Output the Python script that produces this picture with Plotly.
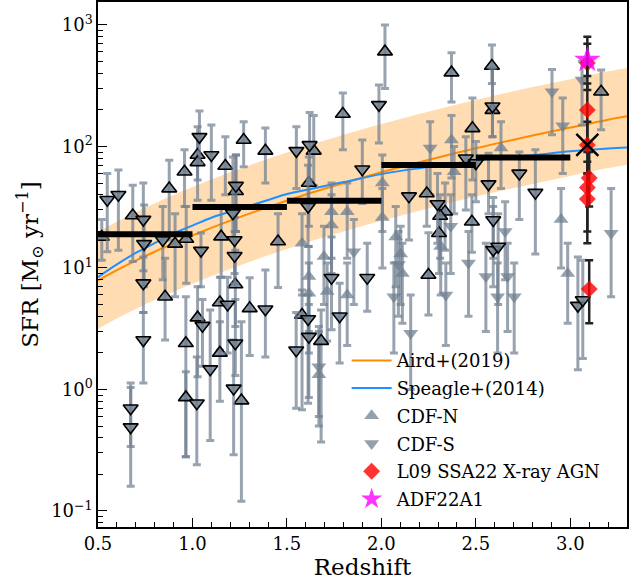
import plotly.graph_objects as go

# ---------------- data ----------------
# Model curves
aird_z = [0.5, 0.6, 0.7, 0.8, 0.9, 1.0, 1.2, 1.4, 1.6, 1.8, 2.0, 2.2, 2.4, 2.6, 2.8, 3.0, 3.2, 3.3]
aird_sfr = [7.9, 9.6, 11.5, 13.6, 15.9, 18.5, 24.5, 31.7, 40.2, 50, 61.3, 74.1, 88.7, 105, 123, 143, 166, 177]
band_hi = [19.8, 24, 28.8, 34, 39.8, 46.3, 61.3, 79.3, 100.5, 125, 153, 185, 222, 263, 308, 358, 415, 443]
band_lo = [3.16, 3.84, 4.6, 5.44, 6.36, 7.4, 9.8, 12.7, 16.1, 20, 24.5, 29.6, 35.5, 42, 49.2, 57.2, 66.4, 70.8]

speagle_z = [0.5, 0.6, 0.7, 0.8, 0.9, 1.0, 1.1, 1.2, 1.3, 1.4, 1.5, 1.6, 1.8, 2.0, 2.2, 2.4, 2.6, 2.8, 3.0, 3.2, 3.3]
speagle_sfr = [8.4, 10.7, 13.3, 16.0, 19.2, 22.3, 25.9, 29, 32.4, 36.3, 40.6, 43.9, 50.9, 59.2, 66.2, 72.8, 79.9, 84.5, 91.2, 96.4, 98.2]

# CDF-N, outlined markers
cdfn_e_z = [0.52, 0.684, 0.877, 0.908, 0.855, 0.958, 0.967, 0.965, 0.965, 1.027, 1.027, 1.174, 1.027, 1.152,
            1.23, 1.227, 1.145, 1.145, 1.259, 1.271, 1.386, 1.303, 1.453, 2.019, 1.796, 1.642, 1.616, 1.58,
            1.681, 2.24, 2.337, 2.311, 2.305, 2.249, 2.371, 2.482, 2.479, 2.585, 2.588, 3.163]
cdfn_e_sfr = [18, 27, 45, 15.8, 5.8, 62, 17.3, 2.4, 0.86, 85, 74, 69, 3.9, 18.1,
              42.8, 7.3, 5.2, 2.0, 0.81, 113, 92, 4.65, 16.5, 603, 185, 92, 50, 4.1,
              2.5, 41, 29, 26.8, 19.3, 8.75, 405, 141, 24, 460, 199, 282]
cdfn_e_hi = [25, 48, 77, 28, 12, 94, 32, 5.8, 1.4, 145, 120, 120, 7, 32,
             85, 14, 8.4, 3.6, 3.6, 160, 142, 8.3, 28, 1000, 275, 180, 82, 6.6,
             4.5, 73, 50, 40, 32, 19.5, 590, 250, 40, 685, 440, 425]
cdfn_e_lo = [11.6, 11.3, 17, 5.8, 2.55, 32, 7.5, 0.28, 0.28, 53, 36, 40, 1.27, 8.4,
             20, 3.3, 2.1, 0.8, 0.12, 68, 50, 1.9, 6.9, 300, 94, 48, 22, 0.68,
             0.37, 22, 14, 12, 9, 4.1, 232, 53, 13.5, 330, 120, 137]

# CDF-S, outlined markers
cdfs_e_z = [0.549, 0.608, 0.74, 0.744, 0.74, 0.74, 0.843, 0.673, 0.673, 1.037, 1.10, 1.045, 1.053, 1.023,
            1.094, 1.214, 1.23, 1.223, 1.223, 1.186, 1.227, 1.218, 1.386, 1.549, 1.55, 1.987, 1.62, 1.612,
            1.899, 1.736, 1.925, 1.779, 1.612, 1.616, 2.146, 2.297, 2.447, 2.50, 2.588, 2.567, 2.73, 2.815,
            2.592, 2.592, 2.618, 3.04, 3.066]
cdfs_e_sfr = [36.4, 40, 25, 15.8, 7.5, 2.55, 17, 0.70, 0.49, 120, 85, 13.9, 3.35, 0.77,
              1.47, 28.2, 47.6, 17, 12.6, 5.0, 2.4, 1.02, 4.57, 2.1, 92, 220, 103, 32,
              65, 8.3, 8.3, 4.0, 3.8, 2.72, 39, 33.6, 80, 73, 214, 49, 60, 41.7,
              24.8, 14.1, 15, 4.9, 5.45]
cdfs_e_hi = [60, 64, 50, 33, 12.3, 4.3, 32, 1.13, 1.04, 196, 150, 19.4, 5.5, 1.85,
             4.5, 82, 85, 26, 20, 8.4, 5.5, 2.55, 9.6, 4.3, 145, 320, 190, 70,
             113, 18, 16, 7.5, 6, 5, 68, 60, 120, 110, 440, 88, 90, 94,
             38, 32, 28, 12.3, 11.6]
cdfs_e_lo = [13.6, 14, 9.5, 7, 4.3, 1.13, 8, 0.34, 0.16, 73, 36, 7, 1.55, 0.24,
             0.38, 17, 20, 9, 7.5, 2.0, 1.3, 0.29, 1.85, 0.7, 45, 107, 53, 15,
             34, 3.1, 4.4, 1.65, 0.77, 0.86, 17, 16, 30, 35, 120, 28, 25, 13,
             12, 7, 5, 1.45, 1.8]

# CDF-N, plain markers
cdfn_p_z = [1.58, 1.616, 1.616, 1.696, 1.713, 1.736, 1.736, 1.819, 1.819, 2.005, 2.005, 1.669, 2.076,
            2.102, 2.111, 2.371, 2.385, 2.314, 2.633, 2.951, 2.986]
cdfn_p_sfr = [16, 8.5, 6.2, 12.4, 6.4, 29, 22.6, 29, 6.0, 50, 26, 1.32, 18,
              13, 9.0, 113, 62, 15, 97, 25, 9]
cdfn_p_hi = [28, 15, 11, 22, 11, 50, 40, 50, 11, 85, 45, 3, 32,
             22, 16, 180, 100, 26, 160, 45, 16]
cdfn_p_lo = [6, 3, 2, 5, 2.5, 12, 9, 12, 2.3, 20, 10, 0.5, 7,
             5, 3.5, 55, 28, 6, 45, 10, 3.5]

# CDF-S, plain markers
cdfs_p_z = [1.854, 1.669, 2.066, 2.155, 2.258, 2.341, 2.461, 2.903, 2.96, 3.062, 3.216, 2.655, 2.668,
            2.703, 2.553, 2.615, 2.367, 2.09]
cdfs_p_sfr = [13.6, 1.54, 5.8, 2.9, 97, 6.0, 11, 282, 148, 352, 19.3, 20, 8.5,
              5.8, 8.5, 5.8, 22, 10.7]
cdfs_p_hi = [25, 3.3, 11, 6, 160, 11, 20, 430, 250, 500, 45, 35, 16,
             11, 16, 11, 40, 20]
cdfs_p_lo = [5, 0.6, 2, 1, 40, 2.3, 4, 125, 60, 150, 5.8, 8, 3,
             2, 3, 2, 9, 4]

# Binned medians
med_z_lo = [0.5, 1.0, 1.5, 2.0, 2.5]
med_z_hi = [1.0, 1.5, 2.0, 2.5, 3.0]
med_sfr = [18.9, 31.7, 35.8, 70.5, 81]

# L09 SSA22 X-ray AGN
l09_z = [3.09, 3.09, 3.09, 3.10, 3.09, 3.09, 3.10]
l09_sfr = [487, 200, 103, 55, 46, 37, 6.7]
l09_hi = [800, 330, 160, 90, 75, 60, 11.6]
l09_lo = [292, 90, 60, 32, 16, 20, 3.5]

# ADF22A1
adf_z = [3.09]
adf_sfr = [515]
adf_hi = [700]
adf_lo = [380]

# Stacked value (cross)
stack_z = [3.09]
stack_sfr = [103]

# ---------------- figure ----------------
FONT = "DejaVu Serif"
GRAY_ERR = "rgba(112,128,144,0.72)"
GRAY_FILL = "rgba(112,128,144,0.85)"
GRAY_PLAIN = "rgba(112,128,144,0.75)"


def err(v, hi, lo):
    return [h - x for h, x in zip(hi, v)], [x - l for x, l in zip(v, lo)]


fig = go.Figure()

# shaded band
fig.add_trace(go.Scatter(x=aird_z, y=band_hi, mode="lines", line=dict(width=0, shape="spline"),
                         showlegend=False, hoverinfo="skip"))
fig.add_trace(go.Scatter(x=aird_z, y=band_lo, mode="lines", line=dict(width=0, shape="spline"),
                         fill="tonexty", fillcolor="rgba(255,140,0,0.3)", showlegend=False, hoverinfo="skip"))

fig.add_trace(go.Scatter(x=aird_z, y=aird_sfr, mode="lines", name="Aird+(2019)",
                         line=dict(color="#ff8c00", width=2, shape="spline"),
                         legendrank=1, legendgroup="g1"))
fig.add_trace(go.Scatter(x=speagle_z, y=speagle_sfr, mode="lines", name="Speagle+(2014)",
                         line=dict(color="#1e90ff", width=2, shape="spline"),
                         legendrank=2, legendgroup="g2"))


def pts(x, y, hi, lo, symbol, fill, edge, name, show, rank, group):
    up, dn = err(y, hi, lo)
    return go.Scatter(
        x=x, y=y, mode="markers", name=name, showlegend=show, legendrank=rank, legendgroup=group,
        marker=dict(symbol=symbol, size=13, color=fill,
                    line=dict(color="black" if edge else fill, width=1.6 if edge else 0)),
        error_y=dict(type="data", symmetric=False, array=up, arrayminus=dn,
                     color=GRAY_ERR, thickness=3, width=4),
    )


fig.add_trace(pts(cdfn_p_z, cdfn_p_sfr, cdfn_p_hi, cdfn_p_lo, "triangle-up", GRAY_PLAIN, False,
                  "CDF-N", True, 3, "g3"))
fig.add_trace(pts(cdfs_p_z, cdfs_p_sfr, cdfs_p_hi, cdfs_p_lo, "triangle-down", GRAY_PLAIN, False,
                  "CDF-S", True, 4, "g4"))
fig.add_trace(pts(cdfn_e_z, cdfn_e_sfr, cdfn_e_hi, cdfn_e_lo, "triangle-up", GRAY_FILL, True,
                  "CDF-N", False, 3, "g3"))
fig.add_trace(pts(cdfs_e_z, cdfs_e_sfr, cdfs_e_hi, cdfs_e_lo, "triangle-down", GRAY_FILL, True,
                  "CDF-S", False, 4, "g4"))

# binned medians
mx, my = [], []
for a, b, v in zip(med_z_lo, med_z_hi, med_sfr):
    mx += [a, b, None]
    my += [v, v, None]
fig.add_trace(go.Scatter(x=mx, y=my, mode="lines", line=dict(color="black", width=6),
                         showlegend=False, hoverinfo="skip"))

# L09
up, dn = err(l09_sfr, l09_hi, l09_lo)
fig.add_trace(go.Scatter(x=l09_z, y=l09_sfr, mode="markers", name="L09 SSA22 X-ray AGN",
                         legendrank=5, legendgroup="g5",
                         marker=dict(symbol="diamond", size=13, color="rgba(255,0,0,0.8)", line=dict(width=0)),
                         error_y=dict(type="data", symmetric=False, array=up, arrayminus=dn,
                                      color="#222222", thickness=2.5, width=4)))

# stacked cross
fig.add_trace(go.Scatter(x=stack_z, y=stack_sfr, mode="markers", showlegend=False,
                         marker=dict(symbol="x-thin", size=22, color="black",
                                     line=dict(color="black", width=2.5))))

# ADF22A1
up, dn = err(adf_sfr, adf_hi, adf_lo)
fig.add_trace(go.Scatter(x=adf_z, y=adf_sfr, mode="markers", name="ADF22A1",
                         legendrank=6, legendgroup="g6",
                         marker=dict(symbol="star", size=20, color="rgba(255,0,255,0.8)", line=dict(width=0)),
                         error_y=dict(type="data", symmetric=False, array=up, arrayminus=dn,
                                      color="#222222", thickness=2.5, width=4)))

minor_y = [m * 10 ** e for e in range(-2, 4) for m in range(2, 10)]

fig.update_layout(
    width=641, height=586,
    margin=dict(l=98, r=14, t=2, b=59, autoexpand=False),
    paper_bgcolor="white", plot_bgcolor="white",
    font=dict(family=FONT, size=18, color="black"),
    legend=dict(x=0.47, y=0.352, xanchor="left", yanchor="top", bgcolor="rgba(0,0,0,0)",
                font=dict(family=FONT, size=18), tracegroupgap=1.3, itemwidth=40),
    showlegend=True,
)
fig.update_xaxes(
    range=[0.5, 3.3], showgrid=False, zeroline=False, automargin=False,
    showline=True, linecolor="black", linewidth=1.5, mirror=True,
    ticks="inside", ticklen=9, tickwidth=1.2, tickcolor="black", dtick=0.5, tick0=0.5,
    tickformat=".1f", tickfont=dict(family=FONT, size=18),
    minor=dict(ticks="inside", ticklen=5, tickwidth=1, tickcolor="black", dtick=0.1),
    title=dict(text="Redshift", font=dict(family=FONT, size=23), standoff=4),
)
fig.update_yaxes(
    type="log", range=[-1.132, 3.189], showgrid=False, zeroline=False, automargin=False,
    showline=True, linecolor="black", linewidth=1.5, mirror=True,
    ticks="inside", ticklen=9, tickwidth=1.2, tickcolor="black",
    tickvals=[0.1, 1, 10, 100, 1000],
    ticktext=["10<sup>\u22121</sup>", "10<sup>0</sup>", "10<sup>1</sup>", "10<sup>2</sup>", "10<sup>3</sup>"],
    tickfont=dict(family=FONT, size=18),
    minor=dict(ticks="inside", ticklen=5, tickwidth=1, tickcolor="black", tickvals=minor_y),
    title=dict(text="SFR [M<sub>\u2299</sub> yr<sup>\u22121</sup>]", font=dict(family=FONT, size=23), standoff=6),
)

fig.write_html("out.html", config={"displayModeBar": False},
               post_script="document.body.style.margin='0px';")
